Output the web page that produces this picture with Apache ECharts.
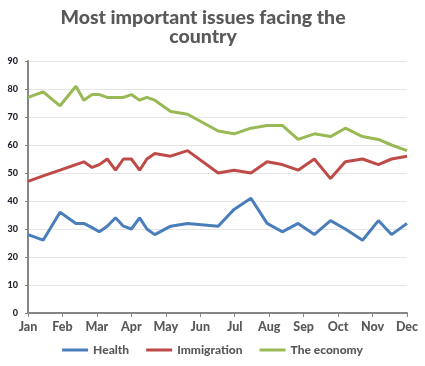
<!DOCTYPE html>
<html>
<head>
<meta charset="utf-8">
<script src="https://cdn.jsdelivr.net/npm/echarts@6/dist/echarts.min.js"></script>
<style>html,body{margin:0;padding:0;background:#fff}#c{width:425px;height:366px}</style>
</head>
<body>
<div id="c"></div>
<script>
var months = ['Jan','Feb','Mar','Apr','May','Jun','Jul','Aug','Sep','Oct','Nov','Dec'];
var yTicks = [0,10,20,30,40,50,60,70,80,90];
// survey positions, in months from Jan
var surveyPos = [0,0.44,0.93,1.39,1.62,1.86,2.07,2.30,2.54,2.77,3.00,3.24,3.45,3.68,4.14,4.63,5.52,5.98,6.47,6.94,7.38,7.84,8.31,8.78,9.21,9.71,10.17,10.55,11];
var health =      [28,26,36,32,32,30.5,29,31,34,31,30,34,30,28,31,32,31,37,41,32,29,32,28,33,30,26,33,28,32];
var immigration = [47,49,51,53,54,52,53,55,51,55,55,51,55,57,56,58,50,51,50,54,53,51,55,48,54,55,53,55,56];
var economy =     [77,79,74,81,76,78,78,77,77,77,78,76,77,76,72,71,65,64,66,67,67,62,64,63,66,63,62,60,58];

function pairs(vals){ return vals.map(function(v,i){ return [surveyPos[i], v]; }); }

var chart = echarts.init(document.getElementById('c'));
var FONT = 'Lato';
chart.setOption({
  animation: false,
  title: {
    text: 'Most important issues facing the\ncountry',
    left: 198, top: 3, textAlign: 'center',
    textStyle: { fontFamily: FONT, fontWeight: 900, fontSize: 19.5, color: '#595959', lineHeight: 19 }
  },
  grid: { left: 28, right: 18, top: 61, bottom: 53 },
  legend: {
    bottom: 5, left: 'center',
    itemWidth: 26, itemHeight: 3, itemGap: 17, icon: 'rect',
    textStyle: { fontFamily: FONT, fontWeight: 900, fontSize: 12, color: '#595959' },
    data: ['Health','Immigration','The economy']
  },
  xAxis: {
    type: 'value', min: 0, max: 11, interval: 1,
    axisLine: { lineStyle: { color: '#868686', width: 2 } },
    axisTick: { show: true, length: 4, lineStyle: { color: '#868686', width: 1 } },
    splitLine: { show: false },
    axisLabel: { margin: 7, fontFamily: FONT, fontWeight: 900, fontSize: 12.5, color: '#595959',
      formatter: function(v){ return months[Math.round(v)] || ''; } }
  },
  yAxis: {
    type: 'value', min: 0, max: 90, interval: 10,
    axisLine: { show: true, lineStyle: { color: '#868686', width: 2 } },
    axisTick: { show: true, length: 3, lineStyle: { color: '#868686' } },
    splitLine: { lineStyle: { color: '#e6e6e6', width: 1 } },
    axisLabel: { margin: 10, fontFamily: FONT, fontWeight: 900, fontSize: 9, color: '#1f1f2e',
      formatter: function(v){ return yTicks.indexOf(v) >= 0 ? String(v) : ''; } }
  },
  series: [
    { name: 'Health', type: 'line', data: pairs(health), showSymbol: false, symbol: 'none',
      lineStyle: { width: 3, color: '#4a7ebb' }, itemStyle: { color: '#4a7ebb' } },
    { name: 'Immigration', type: 'line', data: pairs(immigration), showSymbol: false, symbol: 'none',
      lineStyle: { width: 3, color: '#be4b48' }, itemStyle: { color: '#be4b48' } },
    { name: 'The economy', type: 'line', data: pairs(economy), showSymbol: false, symbol: 'none',
      lineStyle: { width: 3, color: '#98b954' }, itemStyle: { color: '#98b954' } }
  ]
});
</script>
</body>
</html>
